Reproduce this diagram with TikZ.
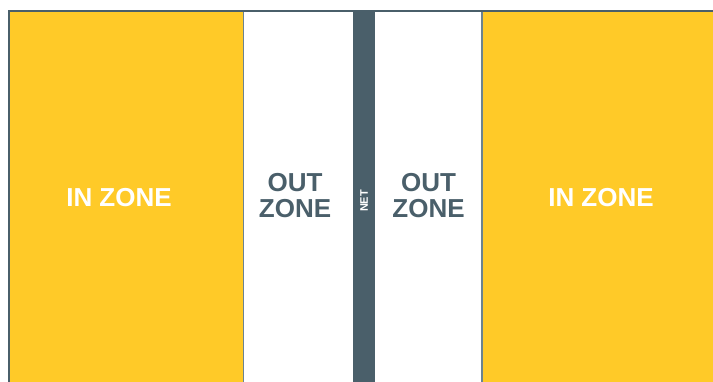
\documentclass[tikz,border=0pt]{standalone}
\usepackage{fontspec}
\setmainfont{Liberation Sans}
\definecolor{zoneyellow}{HTML}{FFCA28}
\definecolor{slate}{HTML}{4A5F6A}
\definecolor{divider}{HTML}{6B8390}

\begin{document}
\begin{tikzpicture}[x=1pt,y=-1pt,
  zonetext/.style={font=\bfseries\fontsize{26}{26}\selectfont, align=center, inner sep=0pt}]
\useasboundingbox (0,0) rectangle (713,382);
\clip (0,0) rectangle (713,382);

% In zones (yellow)
\fill[zoneyellow] (9,11) rectangle (243.5,395);
\fill[zoneyellow] (482,11) rectangle (725,395);

% Net
\fill[slate] (352.5,11) rectangle (375,395);

% Zone dividers
\draw[divider, line width=1.2pt] (243.5,11) -- (243.5,395);
\draw[divider, line width=1.2pt] (482,11) -- (482,395);

% Outer border
\draw[slate, line width=2pt] (9,395) -- (9,11) -- (725,11);

% Labels
\node[zonetext, text=white] (inleft) at (119,198) {IN ZONE};
\node[zonetext, text=white] (inright) at (601,198) {IN ZONE};
\node[zonetext, text=slate] (outleft) at (295,196) {OUT\\ZONE};
\node[zonetext, text=slate] (outright) at (428.5,196) {OUT\\ZONE};
\node[text=white, inner sep=0pt, rotate=90,
  font=\bfseries\fontsize{11}{11}\selectfont] (net) at (364,201) {NET};

\end{tikzpicture}
\end{document}
